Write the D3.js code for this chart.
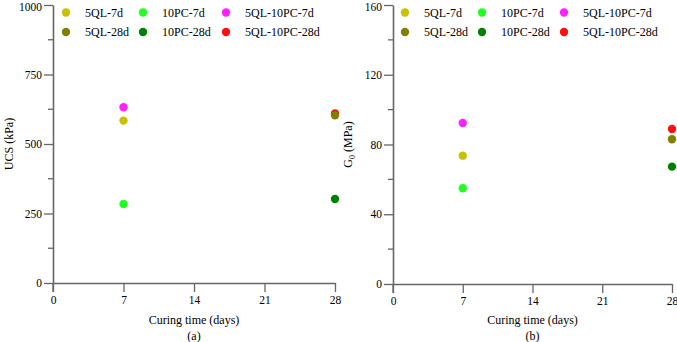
<!DOCTYPE html>
<html>
<head>
<meta charset="utf-8">
<script src="https://cdn.jsdelivr.net/npm/d3@7"></script>
<style>
  body { margin: 0; background: #fff; }
  svg { display: block; font-family: "Liberation Serif", "Times New Roman", serif; }
</style>
</head>
<body>
<svg id="chart" width="677" height="342"></svg>
<script>
// series names and colours
const seriesNames = ['5QL-7d', '10PC-7d', '5QL-10PC-7d', '5QL-28d', '10PC-28d', '5QL-10PC-28d'];
const seriesColors = ['#c8c000', '#22ff22', '#ff22ff', '#808000', '#007f00', '#ff1010'];
const seriesDays = [7, 7, 7, 28, 28, 28];
// paint order of the points (the olive 28d dot sits over the red one)
const drawOrder = [0, 1, 2, 5, 4, 3];

// values
const ucsValues = [584, 284, 632, 603, 302, 610];
const g0Values = [73.6, 54.9, 92.3, 83.0, 67.3, 88.9];

const xTicks = [0, 7, 14, 21, 28];
const ucsTicks = [0, 250, 500, 750, 1000];
const g0Ticks = [0, 40, 80, 120, 160];

const svg = d3.select('#chart');
const AXIS = '#666';

function panel(opts) {
  const g = svg.append('g');
  const x = d3.scaleLinear().domain([0, 28]).range([opts.x0, opts.x1]);
  const y = d3.scaleLinear().domain([0, opts.ymax]).range([opts.y0, opts.y1]);

  // minor y ticks
  const minorY = d3.range(0, opts.ymax + 1e-9, opts.ymax / 8).filter((v, i) => i % 2 === 1);
  g.selectAll('.ym').data(minorY).enter().append('line')
    .attr('x1', opts.x0 - 5).attr('x2', opts.x0)
    .attr('y1', d => y(d)).attr('y2', d => y(d))
    .attr('stroke', AXIS).attr('stroke-width', 1.3);

  const yAxis = d3.axisLeft(y).tickValues(opts.yTicks).tickFormat(d3.format('d'))
    .tickSize(9).tickPadding(2).tickSizeOuter(0);
  const ya = g.append('g').attr('transform', `translate(${opts.x0},0)`).call(yAxis);
  const xAxis = d3.axisBottom(x).tickValues(xTicks).tickSize(9).tickPadding(4).tickSizeOuter(0);
  const xa = g.append('g').attr('transform', `translate(0,${opts.y0})`).call(xAxis);
  [ya, xa].forEach(a => {
    a.select('.domain').attr('stroke', AXIS).attr('stroke-width', 1.6);
    a.selectAll('.tick line').attr('stroke', AXIS).attr('stroke-width', 1.3);
    a.selectAll('.tick text').attr('fill', '#000').style('font-size', '11.5px')
      .style('font-family', '"Liberation Serif", serif');
  });
  // keep the top label inside the picture
  ya.selectAll('.tick text').filter(d => d === opts.ymax).attr('dy', '0.45em');
  // extend y axis line through the x axis
  g.append('line').attr('x1', opts.x0).attr('x2', opts.x0).attr('y1', opts.y0).attr('y2', opts.y0 + 9)
    .attr('stroke', AXIS).attr('stroke-width', 1.3);

  // points
  g.selectAll('circle.pt').data(drawOrder).enter().append('circle')
    .attr('class', 'pt')
    .attr('cx', i => x(seriesDays[i]))
    .attr('cy', i => y(opts.values[i]))
    .attr('r', 4.2)
    .attr('fill', i => seriesColors[i]);

  // legend
  const legend = g.append('g');
  seriesNames.forEach((name, i) => {
    const col = i % 3, row = Math.floor(i / 3);
    const lx = opts.x0 + opts.legendX[col];
    const ly = 12.5 + row * 19.5;
    legend.append('circle').attr('cx', lx).attr('cy', ly).attr('r', 4.2).attr('fill', seriesColors[i]);
    legend.append('text').attr('x', lx + 19).attr('y', ly + 4.3)
      .style('font-size', '12px').text(name);
  });

  // axis titles
  g.append('text').attr('x', (opts.x0 + opts.x1) / 2).attr('y', 324)
    .attr('text-anchor', 'middle').style('font-size', '12px').text('Curing time (days)');
  g.append('text').attr('x', (opts.x0 + opts.x1) / 2).attr('y', 340)
    .attr('text-anchor', 'middle').style('font-size', '12px').text(opts.tag);

  const yl = g.append('text')
    .attr('transform', `translate(${opts.ylx},${(opts.y0 + opts.y1) / 2}) rotate(-90)`)
    .attr('text-anchor', 'middle').style('font-size', '12px');
  opts.ylabel(yl);
}

panel({
  x0: 53, x1: 335, y0: 283, y1: 5, ymax: 1000, yTicks: ucsTicks, values: ucsValues,
  legendX: [13, 90, 173], tag: '(a)', ylx: 13,
  ylabel: t => t.text('UCS (kPa)')
});

panel({
  x0: 393, x1: 672, y0: 284, y1: 5, ymax: 160, yTicks: g0Ticks, values: g0Values,
  legendX: [12, 89, 171], tag: '(b)', ylx: 352,
  ylabel: t => {
    t.append('tspan').text('G');
    t.append('tspan').attr('dy', 3).style('font-size', '8px').text('0');
    t.append('tspan').attr('dy', -3).text(' (MPa)');
  }
});
</script>
</body>
</html>
